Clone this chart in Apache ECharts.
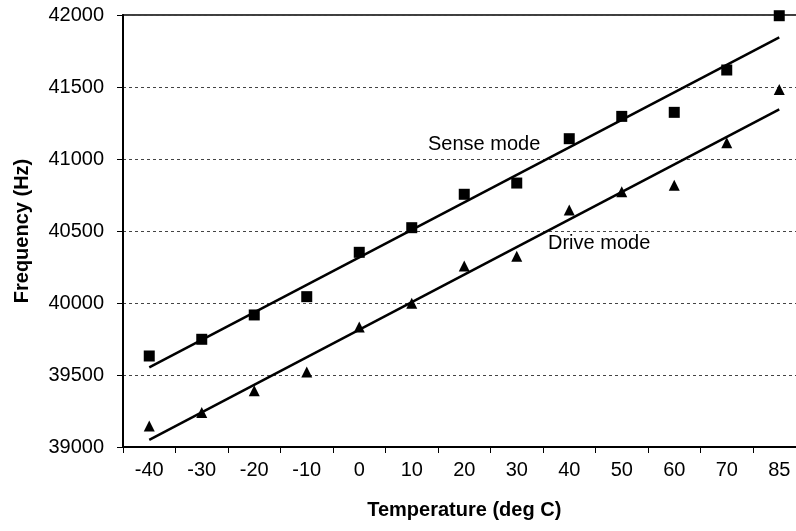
<!DOCTYPE html>
<html>
<head>
<meta charset="utf-8">
<script src="https://cdn.jsdelivr.net/npm/echarts@6/dist/echarts.min.js"></script>
<style>html,body{margin:0;padding:0;background:#fff}#c{width:796px;height:531px}</style>
</head>
<body>
<div id="c"></div>
<script>
const categories = ['-40','-30','-20','-10','0','10','20','30','40','50','60','70','85'];
const senseValues = [39632, 39748, 39917, 40044, 40352, 40523, 40755, 40833, 41141, 41296, 41324, 41618, 41995];
const driveValues = [39146, 39240, 39391, 39521, 39833, 39998, 40257, 40324, 40646, 40773, 40817, 41113, 41482];
const senseTrend = [39553, 41845];
const driveTrend = [39049, 41345];
const yTicks = [39000, 39500, 40000, 40500, 41000, 41500, 42000];

const FONT = '"Liberation Sans", Arial, sans-serif';
const chart = echarts.init(document.getElementById('c'), null, {renderer: 'canvas'});
const last = categories[categories.length - 1];
chart.setOption({
  animation: false,
  backgroundColor: '#fff',
  grid: {left: 123, top: 15, height: 432, width: 682.5, containLabel: false, outerBoundsMode: 'none',
         show: true, borderColor: '#000', borderWidth: 1.5, backgroundColor: 'transparent'},
  xAxis: {
    type: 'category', data: categories, boundaryGap: true,
    name: 'Temperature (deg C)', nameLocation: 'middle', nameGap: 53,
    nameTextStyle: {fontFamily: FONT, fontSize: 20, fontWeight: 'bold', color: '#000'},
    axisLine: {lineStyle: {color: '#000', width: 2}},
    axisTick: {show: true, length: 6, inside: false, alignWithLabel: false, lineStyle: {color: '#000'}},
    axisLabel: {fontFamily: FONT, fontSize: 20, color: '#000', margin: 13, interval: 0},
    splitLine: {show: false}
  },
  yAxis: {
    type: 'value', min: yTicks[0], max: yTicks[yTicks.length - 1], interval: 500,
    name: 'Frequency (Hz)', nameLocation: 'middle', nameGap: 91, nameRotate: 90,
    nameTextStyle: {fontFamily: FONT, fontSize: 20, fontWeight: 'bold', color: '#000'},
    axisLine: {show: true, lineStyle: {color: '#000', width: 2}},
    axisTick: {show: true, length: 6, lineStyle: {color: '#000'}},
    axisLabel: {fontFamily: FONT, fontSize: 20, color: '#000', margin: 19, formatter: v => String(v)},
    splitLine: {show: true, lineStyle: {color: '#444', type: [3, 3], width: 1}}
  },
  series: [
    {name: 'Sense trend', type: 'line', data: [[categories[0], senseTrend[0]], [last, senseTrend[1]]],
     showSymbol: false, symbol: 'none', lineStyle: {color: '#000', width: 2.5}, silent: true, z: 2},
    {name: 'Drive trend', type: 'line', data: [[categories[0], driveTrend[0]], [last, driveTrend[1]]],
     showSymbol: false, symbol: 'none', lineStyle: {color: '#000', width: 2.5}, silent: true, z: 2},
    {name: 'Sense mode', type: 'scatter', data: senseValues, symbol: 'rect', symbolSize: 11,
     itemStyle: {color: '#000', opacity: 1}, z: 3},
    {name: 'Drive mode', type: 'scatter', data: driveValues, symbol: 'triangle', symbolSize: 11,
     itemStyle: {color: '#000', opacity: 1}, z: 3}
  ],
  graphic: [
    {type: 'text', left: 428, top: 134, z: 10,
     style: {text: 'Sense mode', fontFamily: FONT, fontSize: 20, fill: '#000'}},
    {type: 'text', left: 548, top: 233, z: 10,
     style: {text: 'Drive mode', fontFamily: FONT, fontSize: 20, fill: '#000'}}
  ]
});
</script>
</body>
</html>
